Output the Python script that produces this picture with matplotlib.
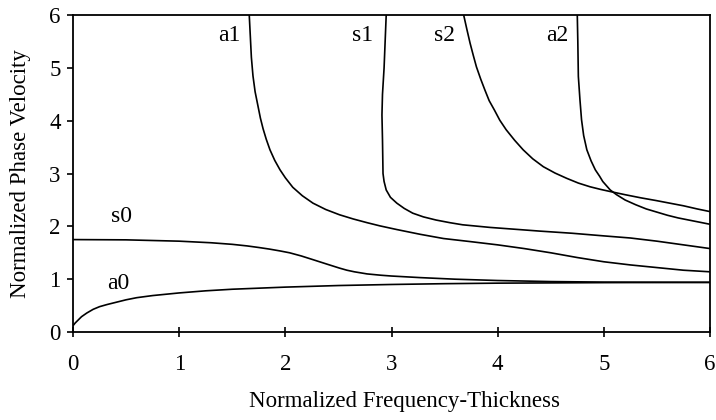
import matplotlib
matplotlib.use("Agg")
import matplotlib.pyplot as plt

plt.rcParams['font.family'] = ['Liberation Serif', 'DejaVu Serif']

# dispersion curves (x = freq-thickness, y = phase velocity)
a0_x = [0.0, 0.02, 0.05, 0.08, 0.13, 0.19, 0.25, 0.32, 0.4, 0.5, 0.6, 0.75, 0.9, 1.0,
        1.25, 1.5, 1.75, 2.0, 2.5, 3.0, 3.5, 4.0, 5.0, 6.0]
a0_y = [0.12, 0.17, 0.23, 0.29, 0.36, 0.43, 0.48, 0.52, 0.56, 0.61, 0.65, 0.69, 0.72, 0.74,
        0.78, 0.81, 0.83, 0.85, 0.88, 0.90, 0.915, 0.925, 0.935, 0.94]

s0_x = [0.0, 0.5, 1.0, 1.3, 1.5, 1.64, 1.75, 1.85, 1.95, 2.04, 2.15, 2.26, 2.33, 2.4, 2.51,
        2.58, 2.65, 2.77, 2.9, 3.0, 3.27, 3.6, 4.0, 4.5, 5.0, 6.0]
s0_y = [1.75, 1.745, 1.72, 1.69, 1.66, 1.63, 1.60, 1.57, 1.535, 1.50, 1.44, 1.37, 1.325, 1.28, 1.21,
        1.17, 1.14, 1.10, 1.075, 1.06, 1.03, 1.00, 0.975, 0.955, 0.945, 0.94]

a1_x = [1.66, 1.67, 1.68, 1.695, 1.715, 1.74, 1.765, 1.79, 1.82, 1.855, 1.90, 1.95, 2.0, 2.07,
        2.16, 2.26, 2.38, 2.51, 2.64, 2.77, 2.89, 3.05, 3.27, 3.49, 3.75, 4.0, 4.25, 4.5,
        4.75, 5.0, 5.25, 5.5, 5.75, 6.0]
a1_y = [6.0, 5.6, 5.2, 4.85, 4.55, 4.3, 4.05, 3.85, 3.65, 3.45, 3.25, 3.07, 2.92, 2.74,
        2.58, 2.44, 2.32, 2.22, 2.14, 2.07, 2.01, 1.94, 1.85, 1.77, 1.71, 1.65, 1.58, 1.50,
        1.41, 1.33, 1.27, 1.22, 1.17, 1.14]

s1_x = [2.95, 2.94, 2.93, 2.915, 2.91, 2.915, 2.92, 2.93, 2.95, 2.99, 3.05, 3.12, 3.20, 3.30,
        3.42, 3.55, 3.67, 3.93, 4.2, 4.4, 4.7, 5.0, 5.25, 5.5, 5.75, 6.0]
s1_y = [6.0, 5.5, 5.0, 4.5, 4.11, 3.64, 3.0, 2.85, 2.69, 2.55, 2.44, 2.34, 2.25, 2.18,
        2.12, 2.07, 2.03, 1.98, 1.94, 1.91, 1.87, 1.82, 1.78, 1.72, 1.65, 1.58]

s2_x = [3.68, 3.71, 3.74, 3.77, 3.80, 3.84, 3.88, 3.92, 3.97, 4.02, 4.08, 4.16, 4.24, 4.33,
        4.43, 4.54, 4.65, 4.76, 4.87, 4.97, 5.06, 5.2, 5.35, 5.49, 5.62, 5.75, 5.88, 6.0]
s2_y = [6.0, 5.73, 5.47, 5.24, 5.02, 4.79, 4.58, 4.38, 4.20, 4.01, 3.83, 3.63, 3.45, 3.28,
        3.13, 3.01, 2.91, 2.82, 2.75, 2.70, 2.66, 2.60, 2.54, 2.49, 2.44, 2.39, 2.33, 2.28]

a2_x = [4.75, 4.755, 4.76, 4.775, 4.79, 4.81, 4.84, 4.88, 4.92, 4.96, 4.99, 5.06, 5.12, 5.2,
        5.30, 5.40, 5.5, 5.6, 5.7, 5.8, 5.9, 6.0]
a2_y = [6.0, 5.5, 4.84, 4.4, 4.02, 3.72, 3.45, 3.24, 3.07, 2.95, 2.85, 2.69, 2.60, 2.50,
        2.41, 2.33, 2.27, 2.21, 2.16, 2.12, 2.08, 2.04]

mode_names = ['a0', 's0', 'a1', 's1', 's2', 'a2']
label_x = [0.43, 0.46, 1.47, 2.73, 3.50, 4.56]
label_y = [0.92, 2.18, 5.62, 5.62, 5.62, 5.62]


def main():
    fig = plt.figure(figsize=(7.16, 4.2), dpi=100)
    ax = fig.add_axes([0.102, 0.2095, 0.8896, 0.7545])

    for xs, ys in [(a0_x, a0_y), (s0_x, s0_y), (a1_x, a1_y),
                   (s1_x, s1_y), (s2_x, s2_y), (a2_x, a2_y)]:
        ax.plot(xs, ys, color='black', lw=1.2, solid_joinstyle='round')

    for name, lx, ly in zip(mode_names, label_x, label_y):
        ax.text(lx, ly, name, fontsize=17, ha='center', va='center')

    ax.set_xlim(0, 6)
    ax.set_ylim(0, 6)
    ax.set_xticks(range(0, 7))
    ax.set_yticks(range(0, 7))
    ax.tick_params(axis='x', direction='inout', length=7, width=1.2, pad=12, labelsize=16.5)
    ax.tick_params(axis='y', direction='out', length=4, width=1.2, pad=5, labelsize=16.5)
    for sp in ax.spines.values():
        sp.set_linewidth(1.3)

    ax.set_xlabel('Normalized Frequency-Thickness', fontsize=16.5, va='center')
    ax.set_ylabel('Normalized Phase Velocity', fontsize=16.5, va='center')
    ax.xaxis.set_label_coords(0.521, -0.218)
    ax.yaxis.set_label_coords(-0.083, 0.5)

    fig.savefig('out.png', dpi=100)


if __name__ == '__main__':
    main()
